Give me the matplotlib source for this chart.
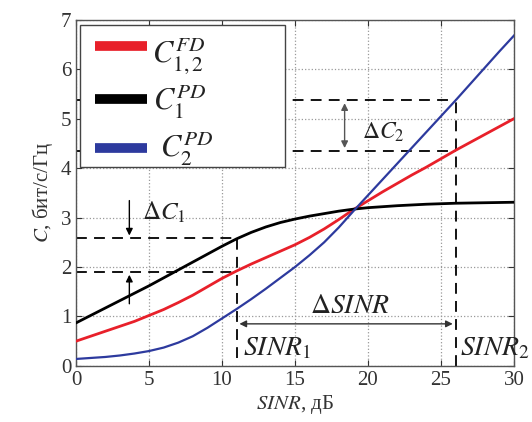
import matplotlib
matplotlib.use("Agg")
import matplotlib.pyplot as plt
from matplotlib.patches import Rectangle

plt.rcParams['font.family'] = ['Liberation Serif', 'DejaVu Serif']
plt.rcParams['mathtext.fontset'] = 'stix'

# Data (SINR in dB, capacity in bit/s/Hz)
sinr = list(range(0, 31))
c_fd = [0.5, 0.6, 0.7, 0.8, 0.9, 1.02, 1.14, 1.28, 1.43, 1.6, 1.77, 1.92, 2.06, 2.19, 2.32,
        2.45, 2.6, 2.77, 2.96, 3.16, 3.34, 3.52, 3.69, 3.86, 4.02, 4.19, 4.36, 4.52, 4.68, 4.84, 5.0]
c_pd1 = [0.87, 1.02, 1.17, 1.32, 1.47, 1.62, 1.78, 1.94, 2.1, 2.26, 2.42, 2.57, 2.7, 2.81, 2.9,
         2.97, 3.03, 3.08, 3.13, 3.17, 3.2, 3.22, 3.24, 3.255, 3.27, 3.28, 3.29, 3.295, 3.3, 3.305, 3.31]
c_pd2 = [0.14, 0.16, 0.18, 0.21, 0.25, 0.3, 0.37, 0.47, 0.6, 0.77, 0.96, 1.15, 1.35, 1.56, 1.78,
         2.0, 2.24, 2.5, 2.8, 3.13, 3.45, 3.77, 4.09, 4.41, 4.73, 5.05, 5.37, 5.7, 6.03, 6.36, 6.68]

series = [c_fd, c_pd1, c_pd2]
labels = [r'$C_{1,2}^{FD}$', r'$C_{1}^{PD}$', r'$C_{2}^{PD}$']
colors = ['#e8202a', '#000000', '#2d3a9e']
widths = [2.0, 2.0, 1.6]

sinr1, sinr2 = 11, 26
c1_hi, c1_lo = 2.58, 1.9
c2_hi, c2_lo = 5.37, 4.35

fig = plt.figure(figsize=(5.32, 4.22), dpi=100)
ax = fig.add_axes([0.143, 0.133, 0.823, 0.82])

for y, col, w in zip(series, colors, widths):
    ax.plot(sinr, y, color=col, lw=w, zorder=3)

ax.set_xlim(0, 30)
ax.set_ylim(0, 7)
ax.set_xticks(range(0, 31, 5))
ax.set_yticks(range(0, 8))
ax.grid(True, linestyle=':', color='#999999', lw=0.9)
ax.tick_params(direction='in', top=True, right=True, labelsize=15, colors='#333333', length=4)
for s in ax.spines.values():
    s.set_color('#555555')
    s.set_linewidth(1.0)

ax.set_xlabel(r'$SINR$, дБ', fontsize=15, color='#333333', labelpad=2)
ax.set_ylabel(r'$C$, бит/с/Гц', fontsize=15, color='#333333', labelpad=4)

dkw = dict(color='black', lw=1.3, ls=(0, (6, 4)), zorder=2)
ax.plot([0, sinr1], [c1_hi, c1_hi], **dkw)
ax.plot([0, sinr1], [c1_lo, c1_lo], **dkw)
ax.plot([sinr1, sinr1], [0.15, c1_hi], **dkw)
ax.plot([0, sinr2], [c2_hi, c2_hi], **dkw)
ax.plot([0, sinr2], [c2_lo, c2_lo], **dkw)
ax.plot([sinr2, sinr2], [0, c2_hi], **dkw)

akw = dict(arrowstyle='-|>', color='black', lw=1.0, mutation_scale=10)
ax.annotate('', xy=(3.65, c1_hi), xytext=(3.65, 3.4), arrowprops=akw)
ax.annotate('', xy=(3.65, c1_lo), xytext=(3.65, 1.2), arrowprops=akw)
ax.text(4.5, 3.1, r'$\Delta C_1$', fontsize=18, va='center', ha='left', color='#222222')

ax.annotate('', xy=(18.4, c2_hi), xytext=(18.4, c2_lo),
            arrowprops=dict(arrowstyle='<|-|>', color='#555555', lw=1.0, mutation_scale=10))
ax.text(19.6, 4.72, r'$\Delta C_2$', fontsize=17, va='center', ha='left', color='#222222')

ax.annotate('', xy=(sinr1, 0.85), xytext=(sinr2, 0.85),
            arrowprops=dict(arrowstyle='<|-|>', color='#333333', lw=1.0, mutation_scale=10))
ax.text(18.8, 1.2, r'$\Delta SINR$', fontsize=20, va='center', ha='center', color='#222222')

ax.text(11.45, 0.22, r'$SINR_1$', fontsize=20, va='baseline', ha='left', color='#222222')
ax.text(26.3, 0.22, r'$SINR_2$', fontsize=20, va='baseline', ha='left', color='#222222', clip_on=False)

# Hand-built legend (frame, handles, labels)
ax.add_patch(Rectangle((0.27, 4.03), 14.05, 2.87, facecolor='white', edgecolor='#444444',
                       lw=1.0, zorder=4))
handle_y = [6.47, 5.40, 4.41]
label_pos = [(5.21, 6.13), (5.28, 5.16), (5.75, 4.21)]
for i in range(3):
    ax.plot([1.30, 4.86], [handle_y[i], handle_y[i]], color=colors[i], lw=7,
            solid_capstyle='butt', zorder=5)
    ax.text(*label_pos[i], labels[i], fontsize=22, va='baseline', ha='left',
            color='#222222', zorder=6)

fig.savefig('out.png', dpi=100)
